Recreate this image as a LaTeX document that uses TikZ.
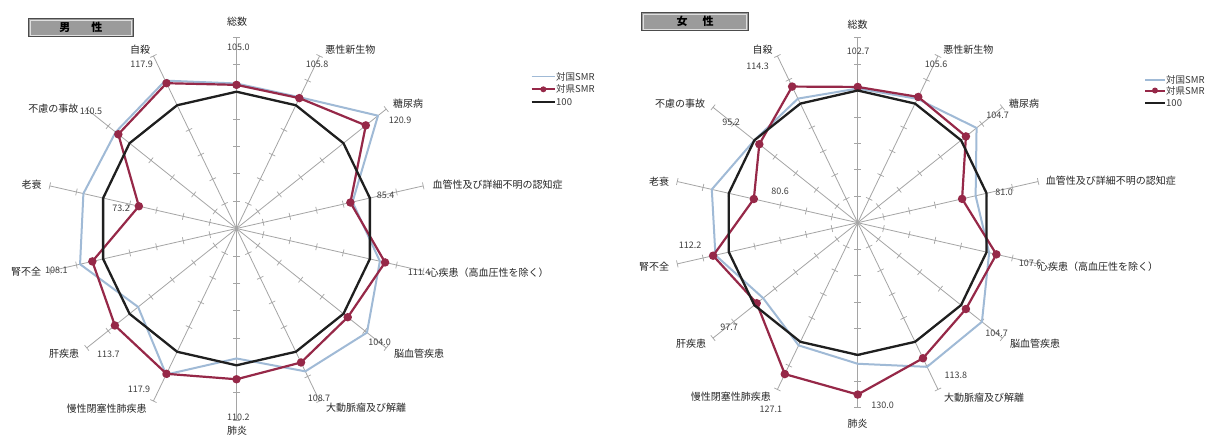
\documentclass[tikz,border=0pt]{standalone}
\usepackage{fontspec}
\setmainfont{Noto Sans CJK JP}
\usetikzlibrary{calc}
\definecolor{bluec}{RGB}{160,186,214}
\definecolor{redc}{RGB}{150,40,72}
\definecolor{axisc}{RGB}{165,165,165}
\definecolor{boxfill}{RGB}{155,155,155}
\tikzset{
  axisline/.style={draw=axisc, line width=0.8pt},
  tickline/.style={draw=axisc, line width=0.7pt},
  blueser/.style={draw=bluec, line width=2pt, line join=round},
  redser/.style={draw=redc, line width=2.2pt, line join=round},
  blackser/.style={draw=black!88, line width=2.3pt, line join=round},
  redmark/.style={circle, fill=redc, inner sep=0pt, minimum size=8.5pt},
  legmark/.style={circle, fill=redc, inner sep=0pt, minimum size=6pt},
  lab/.style={font=\fontsize{10}{12}\selectfont, text=black!85, inner sep=0pt},
  val/.style={font=\fontsize{9}{11}\selectfont, text=black!75, inner sep=0pt},
  leg/.style={font=\fontsize{9.5}{11}\selectfont, text=black!78, anchor=west, inner sep=0pt},
  titlebox/.style={draw=black!70, line width=1pt, fill=boxfill, inner sep=0pt,
    font=\fontsize{11}{13}\selectfont\bfseries}
}
\newcommand\drawradar[6]{%
  \coordinate (#1c) at (#2,#3);
  \foreach \k in {0,...,13}{
    \pgfmathsetmacro\ang{\k*360/14}
    \coordinate (#1ax\k) at ({#2+140*#4*sin(\ang)},{#3-140*#4*cos(\ang)});
    \draw[axisline] (#1c) -- (#1ax\k);
    \foreach \t in {20,40,...,140}{
      \draw[tickline] ({#2+\t*#4*sin(\ang)-3.5*cos(\ang)},{#3-\t*#4*cos(\ang)-3.5*sin(\ang)}) -- ++({7*cos(\ang)},{7*sin(\ang)});
    }
    \coordinate (#1k\k) at ({#2+100*#4*sin(\ang)},{#3-100*#4*cos(\ang)});
  }
  \foreach \v [count=\k from 0] in {#5}{
    \pgfmathsetmacro\ang{\k*360/14}
    \coordinate (#1b\k) at ({#2+\v*#4*sin(\ang)},{#3-\v*#4*cos(\ang)});
  }
  \foreach \v [count=\k from 0] in {#6}{
    \pgfmathsetmacro\ang{\k*360/14}
    \coordinate (#1r\k) at ({#2+\v*#4*sin(\ang)},{#3-\v*#4*cos(\ang)});
  }
  \draw[blueser] (#1b0) \foreach \k in {1,...,13}{-- (#1b\k)} -- cycle;
  \draw[redser] (#1r0) \foreach \k in {1,...,13}{-- (#1r\k)} -- cycle;
  \foreach \k in {0,...,13}{\node[redmark] (#1m\k) at (#1r\k) {};}
  \draw[blackser] (#1k0) \foreach \k in {1,...,13}{-- (#1k\k)} -- cycle;
}
\begin{document}
\begin{tikzpicture}[x=1pt,y=-1pt]
\fill[white] (0,0) rectangle (1210,437);
\useasboundingbox (0,0) rectangle (1210,437);

% ---------------- left chart (male) ----------------
\drawradar{L}{236.5}{228.5}{1.368}%
  {106,106.5,132.3,87,107.5,122,115.9,95,118.5,92,117.3,114.8,113,120}%
  {105.0,105.8,120.9,85.4,111.4,104.0,108.7,110.2,117.9,113.7,108.1,73.2,110.5,117.9}

\node[titlebox, minimum width=105pt, minimum height=18.4pt] (Lt) at (80.8,27.5) {男\hspace{21pt}性};
\draw[white!75!gray, line width=0.6pt] ([shift={(2.2,2.2)}]Lt.north west) rectangle ([shift={(-2.2,-2.2)}]Lt.south east);

\node[lab] (Ln0) at (237,22) {総数};
\node[val] (Lv0) at (238.3,47.5) {105.0};
\node[lab] (Ln1) at (350.3,49.3) {悪性新生物};
\node[val] (Lv1) at (317,64) {105.8};
\node[lab] (Ln2) at (408,104) {糖尿病};
\node[val] (Lv2) at (400,120) {120.9};
\node[lab, anchor=west] (Ln3) at (432.5,184.5) {血管性及び詳細不明の認知症};
\node[val] (Lv3) at (385.5,195) {85.4};
\node[val] (Lv4) at (419,272) {111.4};
\node[lab, anchor=west] (Ln4) at (428.5,273) {心疾患（高血圧性を除く）};
\node[lab] (Ln5) at (419,353.7) {脳血管疾患};
\node[val] (Lv5) at (379.5,342.7) {104.0};
\node[lab] (Ln6) at (366,408) {大動脈瘤及び解離};
\node[val] (Lv6) at (319,398.7) {108.7};
\node[lab] (Ln7) at (237,430.5) {肺炎};
\node[val] (Lv7) at (238.3,417.5) {110.2};
\node[lab] (Ln8) at (106.7,408.7) {慢性閉塞性肺疾患};
\node[val] (Lv8) at (139,389.3) {117.9};
\node[lab] (Ln9) at (64,353.7) {肝疾患};
\node[val] (Lv9) at (108.3,354.3) {113.7};
\node[lab] (Ln10) at (26,272) {腎不全};
\node[val] (Lv10) at (56.3,270.3) {108.1};
\node[lab] (Ln11) at (31.7,185) {老衰};
\node[val] (Lv11) at (121,208.3) {73.2};
\node[lab] (Ln12) at (53.3,108.3) {不慮の事故};
\node[val] (Lv12) at (91,111) {110.5};
\node[lab] (Ln13) at (140,49.3) {自殺};
\node[val] (Lv13) at (141.7,64.3) {117.9};

% legend left
\coordinate (LgA1) at (531.7,76.7); \coordinate (LgA2) at (555,76.7);
\coordinate (LgB1) at (531.7,89.3); \coordinate (LgB2) at (555,89.3);
\coordinate (LgC1) at (531.7,101.7); \coordinate (LgC2) at (555,101.7);
\draw[blueser, line width=1.5pt] (LgA1) -- (LgA2);
\draw[redser, line width=2pt] (LgB1) -- (LgB2);
\node[legmark] (LgBm) at ($(LgB1)!0.5!(LgB2)$) {};
\draw[blackser, line width=2.3pt] (LgC1) -- (LgC2);
\node[leg] (LgAt) at (556,76.7) {対国SMR};
\node[leg] (LgBt) at (556,89.3) {対県SMR};
\node[leg] (LgCt) at (556,101.7) {100};

% ---------------- right chart (female) ----------------
\drawradar{R}{857.7}{222.7}{1.322}%
  {101.5,104,115,91.5,102,120.2,121,106.7,103,91.5,110.4,113.2,100,104.2}%
  {102.7,105.6,104.7,81.0,107.6,104.7,113.8,130.0,127.1,97.7,112.2,80.6,95.2,114.3}

\node[titlebox, minimum width=106.6pt, minimum height=18pt] (Rt) at (695,21.7) {女\hspace{15pt}性};
\draw[white!75!gray, line width=0.6pt] ([shift={(2.2,2.2)}]Rt.north west) rectangle ([shift={(-2.2,-2.2)}]Rt.south east);

\node[lab] (Rn0) at (857.5,25) {総数};
\node[val] (Rv0) at (858,51.7) {102.7};
\node[lab] (Rn1) at (968.3,50) {悪性新生物};
\node[val] (Rv1) at (936,64) {105.6};
\node[lab] (Rn2) at (1024,103.3) {糖尿病};
\node[val] (Rv2) at (997.5,115) {104.7};
\node[lab, anchor=west] (Rn3) at (1045.7,180.7) {血管性及び詳細不明の認知症};
\node[val] (Rv3) at (1004,192.3) {81.0};
\node[val] (Rv4) at (1030,263.7) {107.6};
\node[lab, anchor=west] (Rn4) at (1038,267) {心疾患（高血圧性を除く）};
\node[lab] (Rn5) at (1035,343.7) {脳血管疾患};
\node[val] (Rv5) at (996.7,333.7) {104.7};
\node[lab] (Rn6) at (984,397.7) {大動脈瘤及び解離};
\node[val] (Rv6) at (955.8,375.3) {113.8};
\node[lab] (Rn7) at (857.5,423.7) {肺炎};
\node[val] (Rv7) at (882.5,405.3) {130.0};
\node[lab] (Rn8) at (730.8,397) {慢性閉塞性肺疾患};
\node[val] (Rv8) at (770.8,409.7) {127.1};
\node[lab] (Rn9) at (691,343.7) {肝疾患};
\node[val] (Rv9) at (729,327) {97.7};
\node[lab] (Rn10) at (654,267) {腎不全};
\node[val] (Rv10) at (690,245.3) {112.2};
\node[lab] (Rn11) at (659,181.7) {老衰};
\node[val] (Rv11) at (780,191.7) {80.6};
\node[lab] (Rn12) at (680,104) {不慮の事故};
\node[val] (Rv12) at (731,122.7) {95.2};
\node[lab] (Rn13) at (762.5,50) {自殺};
\node[val] (Rv13) at (757.5,66.7) {114.3};

% legend right
\coordinate (RgA1) at (1145,80); \coordinate (RgA2) at (1165,80);
\coordinate (RgB1) at (1145,90.5); \coordinate (RgB2) at (1165,90.5);
\coordinate (RgC1) at (1145,102.7); \coordinate (RgC2) at (1165,102.7);
\draw[blueser, line width=1.5pt] (RgA1) -- (RgA2);
\draw[redser, line width=2pt] (RgB1) -- (RgB2);
\node[legmark] (RgBm) at ($(RgB1)!0.5!(RgB2)$) {};
\draw[blackser, line width=2.3pt] (RgC1) -- (RgC2);
\node[leg] (RgAt) at (1166,80) {対国SMR};
\node[leg] (RgBt) at (1166,90.5) {対県SMR};
\node[leg] (RgCt) at (1166,102.7) {100};
\end{tikzpicture}
\end{document}
